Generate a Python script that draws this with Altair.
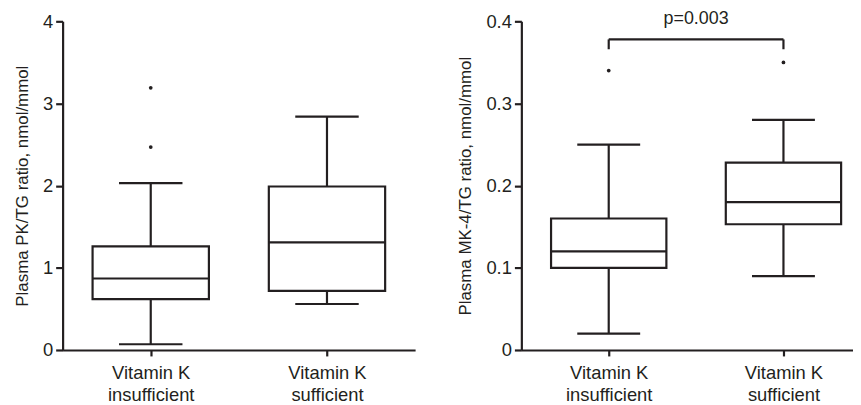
import altair as alt
import pandas as pd

INK = "#231f20"
FONT = "Liberation Sans"

# ---- data ----
categories = ["Vitamin K insufficient", "Vitamin K sufficient"]
label_lines = [["Vitamin K", "insufficient"], ["Vitamin K", "sufficient"]]

# Left panel: plasma PK/TG ratio
pk_low = [0.07, 0.56]
pk_q1 = [0.62, 0.72]
pk_med = [0.87, 1.31]
pk_q3 = [1.26, 1.99]
pk_high = [2.03, 2.84]
pk_outlier_group = [0, 0]
pk_outlier_vals = [3.19, 2.47]

# Right panel: plasma MK-4/TG ratio
mk_low = [0.02, 0.09]
mk_q1 = [0.10, 0.153]
mk_med = [0.12, 0.18]
mk_q3 = [0.16, 0.228]
mk_high = [0.25, 0.28]
mk_outlier_group = [0, 1]
mk_outlier_vals = [0.34, 0.35]

p_label = "p=0.003"
bracket_level = 0.378
bracket_drop = 0.366
p_text_level = 0.403

left_title = "Plasma PK/TG ratio, nmol/mmol"
right_title = "Plasma MK-4/TG ratio, nmol/mmol"
left_ticks = [0, 1, 2, 3, 4]
right_ticks = [0, 0.1, 0.2, 0.3, 0.4]

BOX_HALF = 0.33
CAP_HALF = 0.18
LABEL_SIZE = 18.5
TITLE_SIZE = 17


def box_frame(low, q1, med, q3, high):
    return pd.DataFrame({
        "cat": categories,
        "pos": [i + 1 for i in range(len(categories))],
        "low": low, "q1": q1, "med": med, "q3": q3, "high": high,
    })


def outlier_frame(groups, vals):
    return pd.DataFrame({"pos": [g + 1 for g in groups], "val": vals})


label_expr = " : ".join(
    f"datum.value == {i + 1} ? {lines!r}" for i, lines in enumerate(label_lines)
) + " : ''"


def panel(bdf, odf, ytitle, ydomain, yticks, ylabel_expr, xdomain, width, extra=None):
    xs = alt.Scale(domain=xdomain, nice=False, zero=False)
    ys = alt.Scale(domain=ydomain, nice=False, zero=False)
    xaxis = alt.Axis(values=[1, 2], labelExpr=label_expr, title=None, tickSize=6,
                     labelLineHeight=22, labelPadding=8, labelFlush=False)
    yaxis = alt.Axis(values=yticks, labelExpr=ylabel_expr, title=ytitle, tickSize=7,
                     titlePadding=11, labelPadding=3)

    def X(f):
        return alt.X(f, type="quantitative", scale=xs, axis=xaxis)

    def Y(f):
        return alt.Y(f, type="quantitative", scale=ys, axis=yaxis)

    base = alt.Chart(bdf)
    wide = base.transform_calculate(xa=f"datum.pos - {BOX_HALF}", xb=f"datum.pos + {BOX_HALF}")
    capd = base.transform_calculate(xa=f"datum.pos - {CAP_HALF}", xb=f"datum.pos + {CAP_HALF}")

    whisker = base.mark_rule(color=INK, strokeWidth=2.2).encode(x=X("pos"), y=Y("low"), y2="high")
    cap_lo = capd.mark_rule(color=INK, strokeWidth=2.2).encode(x=X("xa"), x2="xb", y=Y("low"))
    cap_hi = capd.mark_rule(color=INK, strokeWidth=2.2).encode(x=X("xa"), x2="xb", y=Y("high"))
    box = wide.mark_rect(fill="white", stroke=INK, strokeWidth=2.2).encode(
        x=X("xa"), x2="xb", y=Y("q1"), y2="q3")
    med = wide.mark_rule(color=INK, strokeWidth=2.2).encode(x=X("xa"), x2="xb", y=Y("med"))
    outl = alt.Chart(odf).mark_circle(size=14, color=INK, opacity=1).encode(x=X("pos"), y=Y("val"))
    layers = [whisker, cap_lo, cap_hi, box, med, outl]
    if extra is not None:
        layers += extra(X, Y)
    return alt.layer(*layers).properties(width=width, height=331)


def bracket(X, Y):
    hdf = pd.DataFrame({"a": [1], "b": [2], "y": [bracket_level]})
    vdf = pd.DataFrame({"pos": [1, 2], "y0": [bracket_drop] * 2, "y1": [bracket_level] * 2})
    tdf = pd.DataFrame({"a": [1], "b": [2], "y": [p_text_level], "label": [p_label]})
    h = alt.Chart(hdf).mark_rule(color=INK, strokeWidth=2.2).encode(x=X("a"), x2="b", y=Y("y"))
    v = alt.Chart(vdf).mark_rule(color=INK, strokeWidth=2.2).encode(x=X("pos"), y=Y("y0"), y2="y1")
    t = alt.Chart(tdf).transform_calculate(mid="(datum.a + datum.b) / 2").mark_text(
        font=FONT, fontSize=18, color=INK, baseline="middle", align="center"
    ).encode(x=X("mid"), y=Y("y"), text="label:N")
    return [h, v, t]


left = panel(box_frame(pk_low, pk_q1, pk_med, pk_q3, pk_high),
             outlier_frame(pk_outlier_group, pk_outlier_vals),
             left_title, [0, 4], left_ticks, "format(datum.value, 'd')",
             [0.5, 2.5], 355)
right = panel(box_frame(mk_low, mk_q1, mk_med, mk_q3, mk_high),
              outlier_frame(mk_outlier_group, mk_outlier_vals),
              right_title, [0, 0.4], right_ticks,
              "datum.value == 0 ? '0' : format(datum.value, '.1f')",
              [0.5, 2.398], 334, extra=bracket)

chart = alt.hconcat(left, right, spacing=42).properties(
    padding={"left": 5, "top": 0, "right": 0, "bottom": 0}
).configure_view(stroke=None).configure_axis(
    grid=False, domainColor=INK, domainWidth=2.2, tickColor=INK, tickWidth=2.2,
    labelFont=FONT, labelFontSize=LABEL_SIZE, labelColor=INK,
    titleFont=FONT, titleFontSize=TITLE_SIZE, titleFontWeight="normal", titleColor=INK,
).configure_concat(spacing=42)

chart.save("out.html", embed_options={"renderer": "svg", "actions": False})
